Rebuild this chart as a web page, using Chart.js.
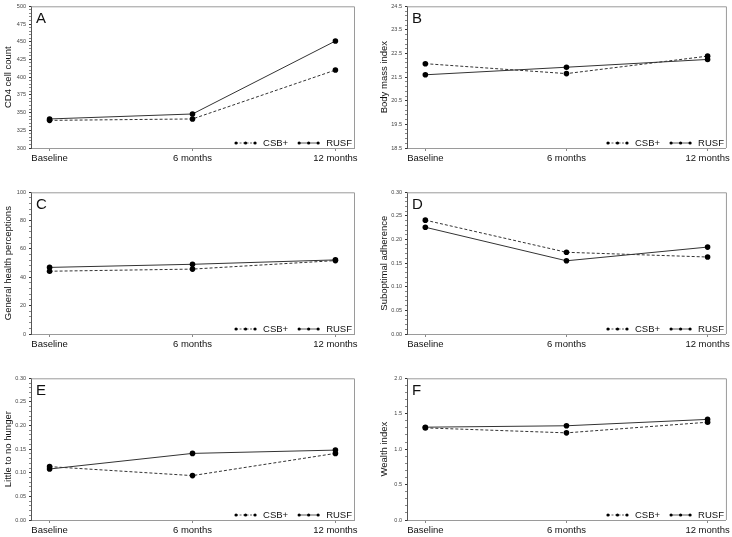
<!DOCTYPE html>
<html><head><meta charset="utf-8">
<script src="https://cdn.jsdelivr.net/npm/chart.js@4.4.1/dist/chart.umd.min.js"></script>
<style>
html,body{margin:0;padding:0;background:#fff;width:732px;height:537px;overflow:hidden;position:relative;}
canvas{position:absolute;}
</style></head><body>
<canvas id="cA"></canvas><canvas id="cB"></canvas>
<canvas id="cC"></canvas><canvas id="cD"></canvas>
<canvas id="cE"></canvas><canvas id="cF"></canvas>
<script>
// ---- data ----
const timepoints = ['Baseline', '6 months', '12 months'];
const groupNames = ['CSB+', 'RUSF'];

const cd4CSB  = [339, 341, 410];
const cd4RUSF = [341, 348, 451];

const bmiCSB  = [22.07, 21.65, 22.39];
const bmiRUSF = [21.60, 21.92, 22.25];

const ghpCSB  = [44.3, 45.8, 51.8];
const ghpRUSF = [47.0, 49.2, 52.3];

const adhCSB  = [0.241, 0.173, 0.163];
const adhRUSF = [0.226, 0.155, 0.184];

const hungerCSB  = [0.113, 0.094, 0.141];
const hungerRUSF = [0.108, 0.141, 0.148];

const wealthCSB  = [1.30, 1.23, 1.38];
const wealthRUSF = [1.31, 1.33, 1.42];

// ---- panels ----
const FONT = "'Liberation Sans', Arial, sans-serif";
const panels = [
  {id:'cA', letter:'A', title:'CD4 cell count',            csb:cd4CSB,    rusf:cd4RUSF,    min:300,  max:500,  major:25,   minor:5,    dec:0, col:0, row:0},
  {id:'cB', letter:'B', title:'Body mass index',           csb:bmiCSB,    rusf:bmiRUSF,    min:18.5, max:24.5, major:1,    minor:0.2,  dec:1, col:1, row:0},
  {id:'cC', letter:'C', title:'General health perceptions',csb:ghpCSB,    rusf:ghpRUSF,    min:0,    max:100,  major:20,   minor:4,    dec:0, col:0, row:1},
  {id:'cD', letter:'D', title:'Suboptimal adherence',      csb:adhCSB,    rusf:adhRUSF,    min:0,    max:0.30, major:0.05, minor:0.01, dec:2, col:1, row:1},
  {id:'cE', letter:'E', title:'Little to no hunger',       csb:hungerCSB, rusf:hungerRUSF, min:0,    max:0.30, major:0.05, minor:0.01, dec:2, col:0, row:2},
  {id:'cF', letter:'F', title:'Wealth index',              csb:wealthCSB, rusf:wealthRUSF, min:0,    max:2.0,  major:0.5,  minor:0.1,  dec:1, col:1, row:2}
];

const colLayout = [
  {left:0,   width:366, chartLeft:31, chartRight:354},
  {left:376, width:356, chartLeft:31, chartRight:352}
];
const rowTops = [0, 186, 372];
const CANVAS_H = 186, PLOT_TOP = 1, PLOT_H = 147;

// frame + letter + legend plugin
const decor = {
  id:'decor',
  afterDatasetsDraw(chart, args, opts) {
    const ctx = chart.ctx, a = chart.chartArea;
    ctx.save();
    // grey frame top/right
    ctx.strokeStyle = '#9a9a9a'; ctx.lineWidth = 1;
    ctx.beginPath();
    ctx.moveTo(a.left, a.top + 0.5); ctx.lineTo(a.right + 0.5, a.top + 0.5); ctx.lineTo(a.right + 0.5, a.bottom);
    ctx.stroke();
    // panel letter
    ctx.fillStyle = '#111';
    ctx.font = '15px ' + FONT;
    ctx.textBaseline = 'top'; ctx.textAlign = 'left';
    ctx.fillText(opts.letter, a.left + 5, a.top + 5);
    // legend
    ctx.font = '9.5px ' + FONT;
    ctx.textBaseline = 'middle';
    const y = a.bottom - 5;
    let x = a.right - 2;
    const ds = chart.data.datasets.slice().reverse();
    ds.forEach((d, i) => {
      const w = ctx.measureText(d.label).width;
      x -= w;
      ctx.fillStyle = '#111';
      ctx.fillText(d.label, x, y);
      const sx1 = x - 8, sx0 = sx1 - 19;
      ctx.strokeStyle = '#333'; ctx.lineWidth = 0.8;
      ctx.setLineDash(d.borderDash && d.borderDash.length ? [2, 1.5] : []);
      ctx.beginPath(); ctx.moveTo(sx0, y); ctx.lineTo(sx1, y); ctx.stroke();
      ctx.setLineDash([]);
      ctx.fillStyle = '#000';
      [sx0, (sx0 + sx1) / 2, sx1].forEach(px => { ctx.beginPath(); ctx.arc(px, y, 1.6, 0, Math.PI * 2); ctx.fill(); });
      x = sx0 - 11;
    });
    ctx.restore();
  }
};

panels.forEach(p => {
  const c = colLayout[p.col];
  const cv = document.getElementById(p.id);
  cv.width = c.width; cv.height = CANVAS_H;
  cv.style.left = c.left + 'px'; cv.style.top = rowTops[p.row] + 'px';
  cv.style.width = c.width + 'px'; cv.style.height = CANVAS_H + 'px';

  const mk = arr => arr.map((v, i) => ({x:i, y:v}));
  const isMajor = v => Math.abs(Math.round((v - p.min) / p.major) * p.major - (v - p.min)) < p.minor / 100;
  const yTickVals = [];
  const nMinor = Math.round((p.max - p.min) / p.minor);
  for (let k = 0; k <= nMinor; k++) yTickVals.push(p.min + k * p.minor);

  new Chart(cv, {
    type:'line',
    data:{
      datasets:[
        {label:groupNames[0], data:mk(p.csb), borderColor:'#333', borderWidth:1, borderDash:[3,2],
         pointRadius:2.8, pointBackgroundColor:'#000', pointBorderColor:'#000', pointBorderWidth:0, tension:0},
        {label:groupNames[1], data:mk(p.rusf), borderColor:'#333', borderWidth:1, borderDash:[],
         pointRadius:2.8, pointBackgroundColor:'#000', pointBorderColor:'#000', pointBorderWidth:0, tension:0}
      ]
    },
    options:{
      responsive:false, animation:false, devicePixelRatio:1,
      layout:{padding:{top:PLOT_TOP, right:c.width - c.chartRight, left:0, bottom:0}},
      plugins:{legend:{display:false}, tooltip:{enabled:false}, decor:{letter:p.letter}},
      scales:{
        x:{
          type:'linear', min:-0.13, max:2.13,
          afterBuildTicks: s => { s.ticks = timepoints.map((t, i) => ({value:i})); },
          afterFit: s => { s.height = CANVAS_H - PLOT_TOP - PLOT_H; },
          ticks:{callback: v => timepoints[v], font:{family:FONT, size:9.5}, color:'#111', padding:2, autoSkip:false, maxRotation:0},
          grid:{drawOnChartArea:false, drawTicks:true, tickLength:3, tickColor:'#888', color:'#888'},
          border:{color:'#9a9a9a', width:1}
        },
        y:{
          type:'linear', min:p.min, max:p.max,
          afterBuildTicks: s => { s.ticks = yTickVals.map(v => ({value:v})); },
          afterFit: s => { s.width = c.chartLeft; },
          ticks:{autoSkip:false, callback: v => isMajor(v) ? v.toFixed(p.dec) : '',
                 font:{family:FONT, size:5.5}, color:'#444', padding:3},
          grid:{drawOnChartArea:false, drawTicks:true, tickLength:2,
                tickColor: ctx => (ctx.tick && isMajor(ctx.tick.value)) ? '#333' : '#888'},
          border:{color:'#555', width:1},
          title:{display:true, text:p.title, font:{family:FONT, size:9.5}, color:'#111', padding:{top:3, bottom:0}}
        }
      }
    },
    plugins:[decor]
  });
});
</script>
</body></html>
